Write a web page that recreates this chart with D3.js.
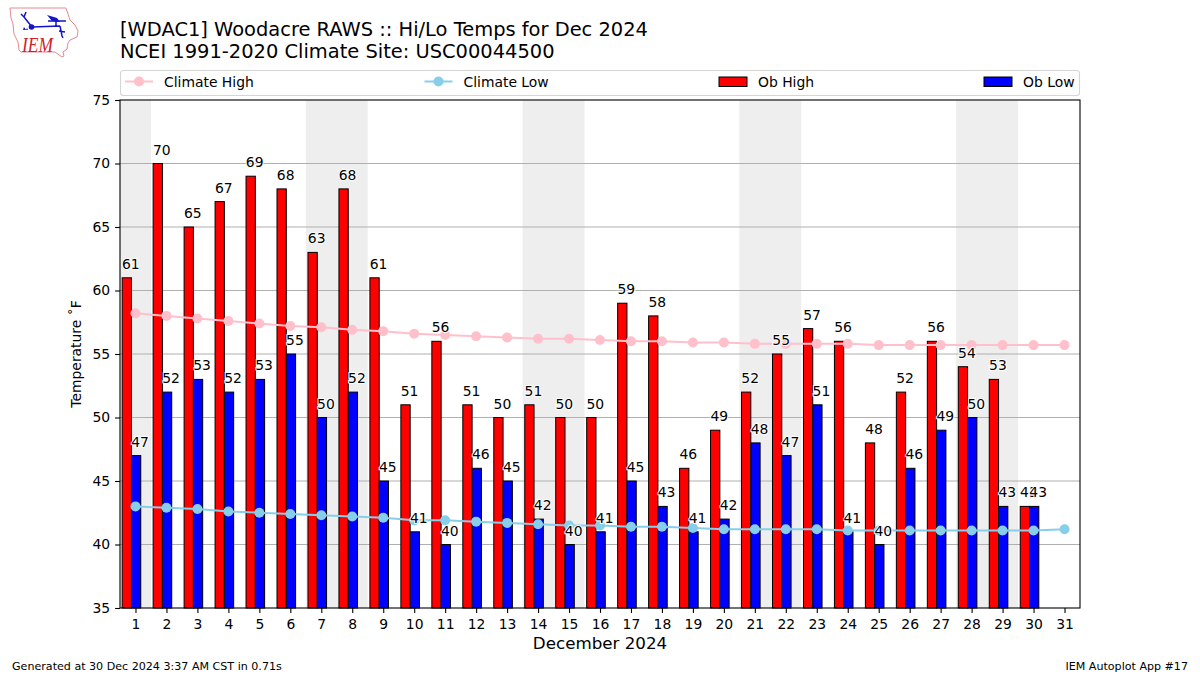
<!DOCTYPE html>
<html><head><meta charset="utf-8">
<script src="https://cdn.jsdelivr.net/npm/d3@7"></script>
<style>html,body{margin:0;background:#fff}svg{display:block}text{font-family:"DejaVu Sans";fill:#000}</style>
</head><body><svg id="c" width="1200" height="675"></svg>
<script>
const days = d3.range(1, 32);
const obHigh = [61,70,65,67,69,68,63,68,61,51,56,51,50,51,50,50,59,58,46,49,52,55,57,56,48,52,56,54,53,43];
const obLow = [47,52,53,52,53,55,50,52,45,41,40,46,45,42,40,41,45,43,41,42,48,47,51,41,40,46,49,50,43,43];
const climateHigh = [58.2,58.0,57.8,57.6,57.4,57.2,57.1,56.9,56.8,56.6,56.5,56.4,56.3,56.2,56.2,56.1,56.0,56.0,55.9,55.9,55.8,55.8,55.8,55.8,55.7,55.7,55.7,55.7,55.7,55.7,55.7];
const climateLow = [43.0,42.9,42.8,42.6,42.5,42.4,42.3,42.2,42.1,41.9,41.9,41.8,41.7,41.6,41.5,41.5,41.4,41.4,41.3,41.2,41.2,41.2,41.2,41.1,41.1,41.1,41.1,41.1,41.1,41.1,41.2];
const shadedDays = [[0.5,1.5],[6.5,8.5],[13.5,15.5],[20.5,22.5],[27.5,29.5]];
const yTicks = d3.range(35, 80, 5);
const titleLines = ["[WDAC1] Woodacre RAWS :: Hi/Lo Temps for Dec 2024","NCEI 1991-2020 Climate Site: USC00044500"];
const legendItems = ["Climate High","Climate Low","Ob High","Ob Low"];

const svg = d3.select("#c");
const L=120,R=1080,T=100,B=608;
const x = d3.scaleLinear().domain([0.5,31.5]).range([L,R]);
const y = d3.scaleLinear().domain([35,75]).range([B,T]);

// logo
const logo = svg.append("g");
logo.append("path").attr("d","M10,8 L66,8 L68,14 L70,20 L75,25 L78,31 L77,37 L70,40 L68,43 L67,49 L63,52 L64,56 L62,57 L55,52 L21,52 L19,50 L18,42 L14,34 L13,24 L11,18 Z")
  .attr("fill","none").attr("stroke","#e58a8f").attr("stroke-width",1);
logo.append("path").attr("d","M32,27 L60,26 M60,26 L62,36 M48,21 L66,21 M56,21 L56,26 M32,27 L24,17 M24,17 L21,14 M24,17 L26,12 M59,31 L65,32 M62,36 L63,38")
  .attr("fill","none").attr("stroke","#1414c8").attr("stroke-width",1.5);
logo.append("path").attr("d","M47,15 L57,18 L60,22 L52,21 Z").attr("fill","#1414c8");
logo.append("circle").attr("cx",31.5).attr("cy",27).attr("r",2.8).attr("fill","#1414c8");
logo.append("path").attr("d","M24,27 L26,30 L23,30 Z M27,28 L28,30 L26,30 Z").attr("fill","#1414c8");
logo.append("text").attr("x",22).attr("y",52).attr("font-size",21).attr("textLength",31).attr("lengthAdjust","spacingAndGlyphs").style("font-family","Liberation Serif").style("font-style","italic").style("fill","#d0202a").text("IEM");

// titles
svg.selectAll(".title").data(titleLines).join("text").attr("x",120).attr("y",(d,i)=>35.5+i*22).attr("font-size",19.44).text(d=>d);

// shading
svg.selectAll(".shade").data(shadedDays).join("rect").attr("x",d=>x(d[0])).attr("width",d=>x(d[1])-x(d[0])).attr("y",T).attr("height",B-T).attr("fill","#eeeeee");

// grid
svg.selectAll(".grid").data(yTicks.filter(d=>d>35&&d<75)).join("line").attr("x1",L).attr("x2",R).attr("y1",d=>y(d)).attr("y2",d=>y(d)).attr("stroke","#b0b0b0").attr("stroke-width",1.1);

// bars
const barW = x(1.3)-x(1);
const barOf = (vals,off,col)=>svg.append("g").selectAll("rect").data(vals).join("rect")
  .attr("x",(d,i)=>x(days[i]+off)).attr("width",barW).attr("y",d=>y(d)).attr("height",d=>B-y(d))
  .attr("fill",col).attr("stroke","#000").attr("stroke-width",1);
barOf(obHigh,-0.43,"#ff0000");
barOf(obLow,-0.13,"#0000ff");

// climate lines
const lineOf = (vals,col)=>{
  const g = svg.append("g");
  g.append("path").datum(vals).attr("fill","none").attr("stroke",col).attr("stroke-width",2)
    .attr("d",d3.line().x((d,i)=>x(days[i])).y(d=>y(d)));
  g.selectAll("circle").data(vals).join("circle").attr("cx",(d,i)=>x(days[i])).attr("cy",d=>y(d)).attr("r",5).attr("fill",col);
};
lineOf(climateHigh,"#ffc0cb");
lineOf(climateLow,"#87ceeb");

// value labels
const labelOf = (vals,off)=>svg.append("g").selectAll("text").data(vals).join("text")
  .attr("x",(d,i)=>x(days[i]+off)).attr("y",d=>y(d)-9).attr("text-anchor","middle").attr("font-size",13.9)
  .attr("stroke","#fff").attr("stroke-width",2).attr("paint-order","stroke").text(d=>d);
labelOf(obHigh,-0.15);
labelOf(obLow,0.15);

// frame
svg.append("rect").attr("x",L).attr("y",T).attr("width",R-L).attr("height",B-T).attr("fill","none").attr("stroke","#000").attr("stroke-width",1.1);

// axes
const ax = svg.append("g").attr("transform",`translate(0,${B})`).call(d3.axisBottom(x).tickValues(days).tickFormat(d3.format("d")).tickSize(4.9).tickPadding(5.9));
const ay = svg.append("g").attr("transform",`translate(${L},0)`).call(d3.axisLeft(y).tickValues(yTicks).tickFormat(d3.format("d")).tickSize(4.9).tickPadding(4.9));
[ax,ay].forEach(a=>{a.select(".domain").remove();a.selectAll("text").attr("font-size",13.9).style("font-family","DejaVu Sans");a.selectAll("line").attr("stroke","#000").attr("stroke-width",1.1);});

svg.append("text").attr("x",600).attr("y",649).attr("text-anchor","middle").attr("font-size",16.7).text("December 2024");
svg.append("text").attr("transform","translate(81,354) rotate(-90)").attr("text-anchor","middle").attr("font-size",13.9).text("Temperature \u02daF");

// legend
const lg = svg.append("g");
lg.append("rect").attr("x",120.5).attr("y",70.5).attr("width",959).attr("height",25).attr("rx",3).attr("fill","#fff").attr("stroke","#d5d5d5").attr("stroke-width",1.1);
const legendX=[125,424.5,719,984];
legendItems.forEach((t,i)=>{
  const lx=legendX[i], ly=81.5;
  if(i<2){
    const col=i==0?"#ffc0cb":"#87ceeb";
    lg.append("line").attr("x1",lx).attr("x2",lx+28).attr("y1",ly).attr("y2",ly).attr("stroke",col).attr("stroke-width",2);
    lg.append("circle").attr("cx",lx+14).attr("cy",ly).attr("r",5).attr("fill",col);
  } else {
    lg.append("rect").attr("x",lx).attr("y",ly-4.5).attr("width",28).attr("height",9.5).attr("fill",i==2?"#ff0000":"#0000ff").attr("stroke","#000");
  }
  lg.append("text").attr("x",lx+39).attr("y",86.5).attr("font-size",13.9).text(t);
});

// footer
svg.append("text").attr("x",12).attr("y",670).attr("font-size",11.1).text("Generated at 30 Dec 2024 3:37 AM CST in 0.71s");
svg.append("text").attr("x",1188).attr("y",670).attr("text-anchor","end").attr("font-size",11.1).text("IEM Autoplot App #17");
</script></body></html>
